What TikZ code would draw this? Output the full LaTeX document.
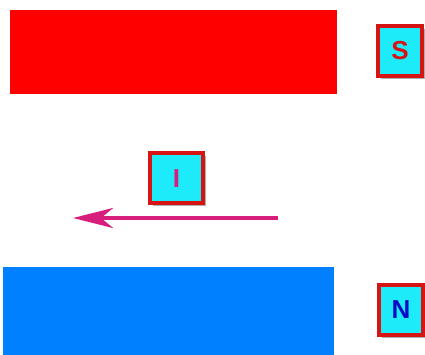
\documentclass[tikz,border=0pt]{standalone}
\usepackage{fontspec}
\setmainfont{Liberation Sans}
\usetikzlibrary{arrows.meta,shadows}
\definecolor{magbar}{RGB}{255,0,0}
\definecolor{magblue}{RGB}{0,128,255}
\definecolor{lblcyan}{RGB}{30,235,250}
\definecolor{lblred}{RGB}{215,20,20}
\definecolor{arrowpink}{RGB}{215,30,125}
\definecolor{txtblue}{RGB}{10,10,200}
\tikzset{
  magnet/.style={rectangle, inner sep=0pt, draw=none, anchor=north west},
  lbl/.style={rectangle, draw=lblred, line width=4pt, fill=lblcyan, inner sep=0pt,
    minimum width=44pt, minimum height=50pt, font=\fontsize{26}{26}\selectfont\bfseries,
    drop shadow={shadow xshift=3pt, shadow yshift=-3pt, opacity=0.45, fill=black!70}},
  current/.style={draw=arrowpink, line width=4.5pt, -{Stealth[length=40pt,width=20pt,inset=12pt]}}
}
\begin{document}
\begin{tikzpicture}[x=1pt,y=-1pt]
\useasboundingbox (0,0) rectangle (425,355);
\node[magnet, fill=magbar, minimum width=327pt, minimum height=84pt] (south) at (10,10) {};
\node[magnet, fill=magblue, minimum width=331pt, minimum height=90pt] (north) at (3,267) {};
\node[lbl, text=lblred] (S) at (400,51) {S};
\node[lbl, text=arrowpink, minimum width=53pt] (I) at (176.5,178.5) {I};
\node[lbl, text=txtblue] (N) at (401,310) {N};
\coordinate (cstart) at (278,218);
\coordinate (cend) at (73,218);
\draw[current] (cstart) -- (cend);
\end{tikzpicture}
\end{document}
